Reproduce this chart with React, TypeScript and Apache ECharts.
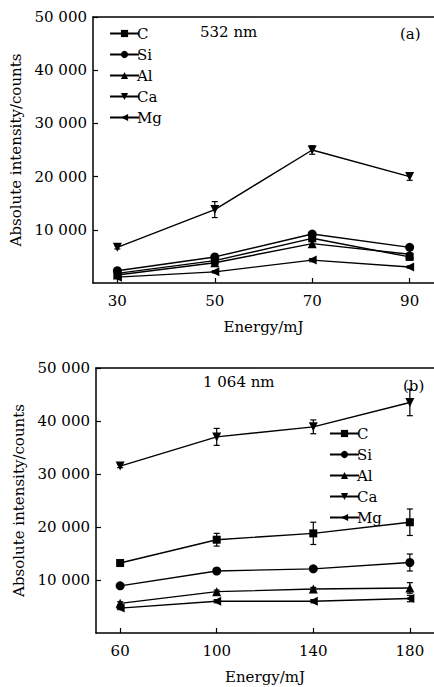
import React, { useEffect, useRef } from 'react';
import * as echarts from 'echarts';

const FONT = 'DejaVu Serif';

// Panel (a) 532 nm
const energyA = [30, 50, 70, 90];
const cA = [1800, 4200, 8400, 4900];
const siA = [2300, 4900, 9200, 6700];
const alA = [1500, 3800, 7400, 5400];
const caA = [6700, 13800, 25000, 20000];
const mgA = [1100, 2100, 4300, 3000];
const cAErr = [200, 300, 400, 300];
const siAErr = [200, 300, 300, 300];
const alAErr = [200, 300, 400, 300];
const caAErr = [300, 1500, 800, 700];
const mgAErr = [150, 200, 300, 200];

// Panel (b) 1 064 nm
const energyB = [60, 100, 140, 180];
const cB = [13200, 17600, 18800, 20900];
const siB = [8900, 11700, 12100, 13300];
const alB = [5600, 7800, 8300, 8500];
const caB = [31500, 37000, 38900, 43500];
const mgB = [4700, 6000, 6000, 6500];
const cBErr = [500, 1200, 2100, 2500];
const siBErr = [300, 400, 400, 1600];
const alBErr = [300, 300, 300, 1000];
const caBErr = [300, 1600, 1300, 2500];
const mgBErr = [300, 300, 300, 600];

const elementNames = ['C', 'Si', 'Al', 'Ca', 'Mg'];
const symbols = ['rect', 'circle', 'triangle', 'triangle', 'triangle'];
const rotations = [0, 0, 0, 180, 90];
const yTicks = [10000, 20000, 30000, 40000, 50000];

const textStyle = { fontFamily: FONT, fontSize: 15, color: '#000' };

function buildSeries(gridIdx: number, xs: number[], ys: number[][], errs: number[][]) {
  const out: any[] = [];
  ys.forEach((vals, i) => {
    out.push({
      type: 'line',
      name: elementNames[i],
      xAxisIndex: gridIdx,
      yAxisIndex: gridIdx,
      data: xs.map((x, j) => [x, vals[j]]),
      symbol: symbols[i],
      symbolRotate: rotations[i],
      symbolSize: i === 0 ? 8 : 9,
      lineStyle: { color: '#000', width: 1.4 },
      itemStyle: { color: '#000' },
      z: 3,
    });
    out.push({
      type: 'custom',
      name: elementNames[i] + '_err',
      xAxisIndex: gridIdx,
      yAxisIndex: gridIdx,
      data: xs.map((x, j) => [x, vals[j] - errs[i][j], vals[j] + errs[i][j]]),
      encode: { x: 0, y: [1, 2] },
      renderItem: (params: any, api: any) => {
        const x = api.value(0);
        const lo = api.coord([x, api.value(1)]);
        const hi = api.coord([x, api.value(2)]);
        const w = 3;
        const st = { stroke: '#000', lineWidth: 1.2 };
        return {
          type: 'group',
          children: [
            { type: 'line', shape: { x1: lo[0], y1: lo[1], x2: hi[0], y2: hi[1] }, style: st },
            { type: 'line', shape: { x1: lo[0] - w, y1: lo[1], x2: lo[0] + w, y2: lo[1] }, style: st },
            { type: 'line', shape: { x1: hi[0] - w, y1: hi[1], x2: hi[0] + w, y2: hi[1] }, style: st },
          ],
        };
      },
      z: 2,
    });
  });
  return out;
}

function xAxisDef(gridIndex: number, min: number, max: number, ticks: number[]) {
  return {
    type: 'value',
    gridIndex,
    min,
    max,
    name: 'Energy/mJ',
    nameLocation: 'middle',
    nameGap: 36,
    nameTextStyle: textStyle,
    axisLine: { show: true, lineStyle: { color: '#000', width: 1.5 } },
    axisTick: { show: true, inside: true, length: 5, customValues: ticks, lineStyle: { color: '#000', width: 1.2 } },
    axisLabel: { show: true, customValues: ticks, ...textStyle, margin: 10 },
    splitLine: { show: false },
  };
}

function topAxisDef(gridIndex: number, min: number, max: number) {
  return {
    type: 'value',
    gridIndex,
    min,
    max,
    position: 'top',
    axisLine: { show: true, onZero: false, lineStyle: { color: '#000', width: 1.5 } },
    axisTick: { show: false },
    axisLabel: { show: false },
    splitLine: { show: false },
  };
}

function yAxisDef(gridIndex: number) {
  return {
    type: 'value',
    gridIndex,
    min: 0,
    max: 50000,
    interval: 10000,
    name: 'Absolute intensity/counts',
    nameLocation: 'middle',
    nameGap: 66,
    nameRotate: 90,
    nameTextStyle: textStyle,
    axisLine: { show: true, lineStyle: { color: '#000', width: 1.5 } },
    axisTick: { show: true, inside: true, length: 5, customValues: yTicks, lineStyle: { color: '#000', width: 1.2 } },
    axisLabel: {
      ...textStyle,
      margin: 6,
      formatter: (v: number) => (v === 0 ? '' : v / 1000 + ' 000'),
    },
    splitLine: { show: false },
  };
}

export default function App() {
  const ref = useRef<HTMLDivElement>(null);
  useEffect(() => {
    const chart = echarts.init(ref.current!, null, { renderer: 'svg' });
    const option: any = {
      animation: false,
      backgroundColor: '#fff',
      grid: [
        { left: 93, top: 17, width: 341, height: 266 },
        { left: 96, top: 368, width: 338, height: 265 },
      ],
      xAxis: [
        xAxisDef(0, 25, 95, energyA),
        xAxisDef(1, 50, 190, energyB),
        topAxisDef(0, 25, 95),
        topAxisDef(1, 50, 190),
      ],
      yAxis: [yAxisDef(0), yAxisDef(1)],
      legend: [
        {
          data: elementNames,
          orient: 'vertical',
          left: 104,
          top: 21,
          itemWidth: 29,
          itemHeight: 9,
          itemGap: 6,
          textStyle: { ...textStyle, padding: [0, 0, 0, -7] },
          selectedMode: false,
        },
        {
          data: elementNames,
          orient: 'vertical',
          left: 324,
          top: 421,
          itemWidth: 29,
          itemHeight: 9,
          itemGap: 6,
          textStyle: { ...textStyle, padding: [0, 0, 0, -7] },
          selectedMode: false,
        },
      ],
      graphic: [
        { type: 'text', left: 200, top: 24, style: { text: '532 nm', font: `15px "${FONT}"`, fill: '#000' } },
        { type: 'text', left: 400, top: 26, style: { text: '(a)', font: `15px "${FONT}"`, fill: '#000' } },
        { type: 'text', left: 203, top: 374, style: { text: '1 064 nm', font: `15px "${FONT}"`, fill: '#000' } },
        { type: 'text', left: 403, top: 378, style: { text: '(b)', font: `15px "${FONT}"`, fill: '#000' } },
      ],
      series: [
        ...buildSeries(0, energyA, [cA, siA, alA, caA, mgA], [cAErr, siAErr, alAErr, caAErr, mgAErr]),
        ...buildSeries(1, energyB, [cB, siB, alB, caB, mgB], [cBErr, siBErr, alBErr, caBErr, mgBErr]),
      ],
    };
    chart.setOption(option);
    return () => chart.dispose();
  }, []);
  return <div ref={ref} style={{ position: 'absolute', left: 0, top: 0, width: 434, height: 687 }} />;
}
